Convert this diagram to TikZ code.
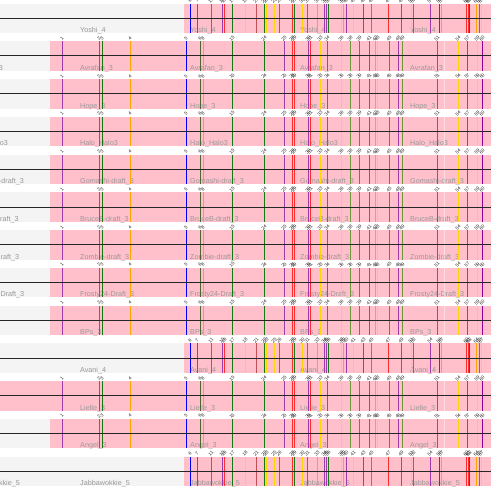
\documentclass[tikz,border=0pt]{standalone}
\usepackage{fontspec}
\setmainfont{Liberation Sans}
\definecolor{pinkband}{RGB}{255,192,203}
\definecolor{greyband}{RGB}{244,244,244}
\definecolor{gpurple}{RGB}{160,60,170}
\definecolor{gmagenta}{RGB}{150,0,150}
\definecolor{gred}{RGB}{255,45,45}
\definecolor{gorange}{RGB}{255,165,0}
\definecolor{gblue}{RGB}{0,0,255}
\definecolor{ggreen}{RGB}{20,120,20}
\definecolor{gdark}{RGB}{80,100,50}
\definecolor{gyellow}{RGB}{255,215,0}
\definecolor{gbrown}{RGB}{190,80,90}
\definecolor{golive}{RGB}{110,150,60}
\newcommand\genesA[1]{%
  \foreach \gx/\gc/\gn in {62/gpurple/1,99/gred/2,102/ggreen/3,130/gorange/4,186/gblue/5,
    200/gdark/6,203/gorange/8,232/ggreen/15,264/ggreen/24,284/gpurple/25,292/gred/28,294/gred/29,
    308/gpurple/30,310/gred/31,320/gyellow/33,327/gred/34,341/gyellow/36,350/golive/38,359/gbrown/39,
    369/gred/41,375/gorange/42,377/gyellow/43,389/gbrown/45,398/gpurple/48,402/golive/49,437/gred/51,
    458/gyellow/54,467/gpurple/57,477/gyellow/59,482/gmagenta/60}{
    \draw[gene,\gc] (\gx,#1) -- (\gx,#1+29.5);
    \node[gnum] (n\gn) at (\gx,#1-3) {\gn};
  }
  \draw[white,opacity=0.5,line width=0.8pt] (444,#1) -- (444,#1+29.5);
}
\newcommand\genesY[1]{%
  \foreach \gx/\gc/\gn in {190/gblue/6,197/gpurple/7,211/gbrown/11,222/gpurple/15,224/gred/16,
    232/ggreen/17,245/gyellow/18,256/gbrown/21,264/ggreen/22,266/gyellow/23,274/gyellow/25,279/gbrown/26,
    292/gred/28,294/ggreen/29,302/gyellow/30,307/gbrown/31,317/gorange/33,324/gpurple/34,326/gpurple/35,
    328/ggreen/36,341/gyellow/38,343/gorange/39,346/gpurple/40,353/gyellow/41,363/gpurple/43,
    371/golive/45,388/gred/47,401/gred/49,411/gyellow/51,413/gbrown/52,430/gpurple/54,439/ggreen/56,
    441/gorange/57,466/gred/60,468/gred/61,469/ggreen/62,476/gorange/64,479/gbrown/65,481/gyellow/67}{
    \draw[gene,\gc] (\gx,#1) -- (\gx,#1+29.5);
    \node[gnum] (n\gn) at (\gx,#1-3) {\gn};
  }
}
\begin{document}
\begin{tikzpicture}[x=1pt,y=-1pt,
  gene/.style={line width=1pt},
  gnum/.style={rotate=45,inner sep=0pt,text=black!85,font=\fontsize{4.6}{5}\selectfont},
  rowlabel/.style={anchor=base west,inner sep=0pt,text=black!40,font=\fontsize{7.2}{8}\selectfont},
  axis/.style={black!85,line width=1pt}]
  \useasboundingbox (0,0) rectangle (491,491);
  \clip (0,0) rectangle (491,491);
  \fill[white] (0,0) rectangle (491,491);
  \foreach \i/\name/\kind/\xs in {0/Yoshi\_4/Y/184,1/Avrafan\_3/A/50,2/Hope\_3/A/50,
    3/Halo\_Halo3/A/50,4/Gomashi-draft\_3/A/50,5/BruceB-draft\_3/A/50,6/Zombie-draft\_3/A/50,
    7/Frosty24-Draft\_3/A/50,8/BPs\_3/A/50,9/Avani\_4/Y/184,10/Lielle\_3/A/0,11/Angel\_3/A/50,
    12/Jabbawokkie\_5/Y/184}{
    \pgfmathsetmacro\T{3.5+37.77*\i}
    \fill[greyband] (0,\T) rectangle (491,\T+29.5);
    \fill[pinkband] (\xs,\T) rectangle (491,\T+29.5);
    \foreach \lx [count=\k] in {-30,80,190,300,410}
      \node[rowlabel] (lab\i-\k) at (\lx,\T+29) {\name};
    \csname genes\kind\endcsname{\T}
    \draw[axis] (0,\T+14.7) -- (491,\T+14.7);
  }
\end{tikzpicture}
\end{document}
